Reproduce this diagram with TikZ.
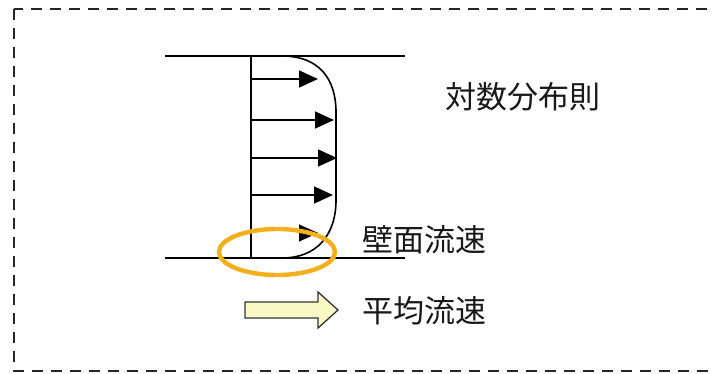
\documentclass[tikz,border=0pt]{standalone}
\usepackage{fontspec}
\newfontfamily\jpfont{Noto Sans CJK JP}
\usetikzlibrary{arrows.meta,shapes.geometric}
\definecolor{ringorange}{HTML}{F2B01E}
\definecolor{arrowfill}{HTML}{FAFAC4}
\tikzset{
  wall/.style={line width=1.6pt, black},
  vel/.style={line width=1.6pt, -{Triangle[length=19pt,width=17pt]}},
  lbl/.style={font=\jpfont\fontsize{31}{36}\selectfont, text=black!90, inner sep=0pt},
}
\begin{document}
\begin{tikzpicture}[x=1pt,y=-1pt]
\useasboundingbox (0,0) rectangle (713,374);
\begin{scope}
\clip (0,0) rectangle (713,374);
\draw[line width=2.8pt, dash pattern=on 11pt off 8pt, black!85] (14,9) rectangle (730,371);
\end{scope}
% walls
\coordinate (tl) at (165,56);
\coordinate (tr) at (405,56);
\coordinate (bl) at (165,258);
\coordinate (br) at (405,258);
\draw[wall] (tl) -- (tr);
\draw[wall] (bl) -- (br);
\coordinate (vt) at (251,56);
\coordinate (vb) at (251,258);
\draw[wall] (vt) -- (vb);
% profile curve
\coordinate (ct) at (282,56);
\coordinate (cb) at (282,258);
\draw[wall] (ct) .. controls (320,56) and (336,80) .. (336,112)
  -- (336,200) .. controls (336,236) and (316,258) .. (cb);
% velocity arrows
\coordinate (a1s) at (251,79);  \coordinate (a1e) at (318,79);
\coordinate (a2s) at (251,120); \coordinate (a2e) at (334,120);
\coordinate (a3s) at (251,158); \coordinate (a3e) at (337,158);
\coordinate (a4s) at (251,195); \coordinate (a4e) at (333,195);
\coordinate (a5s) at (299,233); \coordinate (a5e) at (318,233);
\draw[vel] (a1s) -- (a1e);
\draw[vel] (a2s) -- (a2e);
\draw[vel] (a3s) -- (a3e);
\draw[vel] (a4s) -- (a4e);
\draw[-{Triangle[length=19pt,width=17pt]}, line width=0.1pt] (a5s) -- (a5e);
% orange ellipse
\node[draw=ringorange, line width=4.4pt, ellipse, minimum width=116pt, minimum height=46pt, inner sep=0pt] (ring) at (277,252) {};
% block arrow
\draw[draw=black!80, line width=1.3pt, fill=arrowfill, line join=miter]
  (245,302) -- (318,302) -- (318,292) -- (338,310) -- (318,328) -- (318,318) -- (245,318) -- cycle;
\coordinate (mean) at (292,310);
% labels
\node[lbl] (law) at (523,97) {対数分布則};
\node[lbl] (wall) at (424,240) {壁面流速};
\node[lbl] (avg) at (424,311) {平均流速};
\end{tikzpicture}
\end{document}
